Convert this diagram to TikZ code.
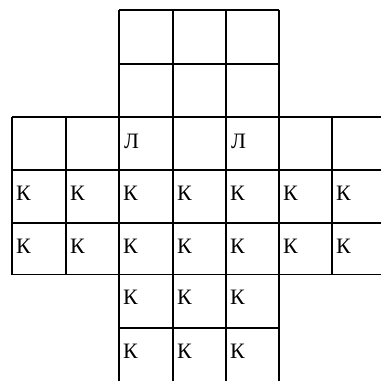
\documentclass[tikz,border=0pt]{standalone}
\usepackage{fontspec}
\setmainfont{Liberation Serif}
\begin{document}
\begin{tikzpicture}[x=1pt,y=-1pt,
  gridline/.style={line width=1.6pt, black},
  letter/.style={anchor=base west, inner sep=0pt, font=\fontsize{22}{25}\selectfont}]
\useasboundingbox (0,0) rectangle (381,381);
\clip (0,0) rectangle (381,381);
\fill[white] (0,0) rectangle (381,381);
% column and row positions
\def\cA{12}\def\cB{66}\def\cC{119}\def\cD{173}\def\cE{226}\def\cF{279}\def\cG{332}\def\cH{390}
\def\rA{10}\def\rB{63.7}\def\rC{117}\def\rD{170}\def\rE{223}\def\rF{274.5}\def\rG{328}\def\rH{390}
% top arm
\foreach \x in {\cC,\cD,\cE,\cF} \draw[gridline] (\x,\rA) -- (\x,\rC);
\foreach \y in {\rA,\rB} \draw[gridline] (\cC,\y) -- (\cF,\y);
% middle band
\foreach \y in {\rC,\rD,\rE,\rF} \draw[gridline] (\cA,\y) -- (\cH,\y);
\foreach \x in {\cA,\cB,\cC,\cD,\cE,\cF,\cG} \draw[gridline] (\x,\rC) -- (\x,\rF);
% bottom arm
\foreach \x in {\cC,\cD,\cE,\cF} \draw[gridline] (\x,\rF) -- (\x,\rH);
\draw[gridline] (\cC,\rG) -- (\cF,\rG);
% letters
\node[letter] (l1) at (\cC+5,\rC+31) {Л};
\node[letter] (l2) at (\cE+5,\rC+31) {Л};
\foreach \x [count=\i] in {\cA,\cB,\cC,\cD,\cE,\cF,\cG} {
  \node[letter] (k4\i) at (\x+4,\rD+30) {К};
  \node[letter] (k5\i) at (\x+4,\rE+30) {К};
}
\foreach \x [count=\i] in {\cC,\cD,\cE} {
  \node[letter] (k6\i) at (\x+4,\rF+30) {К};
  \node[letter] (k7\i) at (\x+4,\rG+30) {К};
}
\end{tikzpicture}
\end{document}
